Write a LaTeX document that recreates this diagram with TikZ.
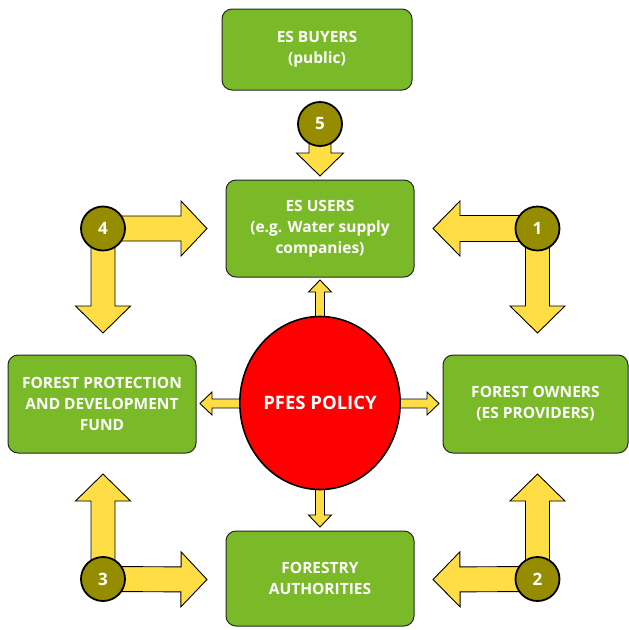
\documentclass[tikz,border=0pt]{standalone}
\usepackage{fontspec}
\setmainfont{Open Sans}
\usetikzlibrary{shapes.geometric,calc}

\definecolor{boxgreen}{RGB}{122,186,40}
\definecolor{arrowyellow}{RGB}{255,221,68}
\definecolor{numolive}{RGB}{150,140,0}
\definecolor{policyred}{RGB}{255,0,0}

% block arrow from #1 to #2: shaft half-width #3, head half-width #4, head length #5
\newcommand\blkarrow[5]{%
  \coordinate (hb) at ($(#2)!#5!(#1)$);
  \draw[blk] ($(#1)!#3!90:(#2)$) -- ($(hb)!#3!90:(#2)$) -- ($(hb)!#4!90:(#2)$)
    -- (#2) -- ($(hb)!#4!-90:(#2)$) -- ($(hb)!#3!-90:(#2)$) -- ($(#1)!#3!-90:(#2)$) -- cycle;
}

\begin{document}
\begin{tikzpicture}[x=1pt,y=-1pt,
  box/.style={draw=black!85, line width=1pt, fill=boxgreen, rounded corners=10pt,
    text=white, font=\bfseries\fontsize{15.5}{21}\selectfont, align=center, inner sep=0pt},
  blk/.style={draw=black, line width=0.9pt, fill=arrowyellow, line join=miter},
  num/.style={circle, draw=black, line width=1.8pt, fill=numolive, text=white,
    font=\bfseries\fontsize{17}{17}\selectfont, minimum size=44pt, inner sep=0pt},
  policy/.style={ellipse, draw=black, line width=1.6pt, fill=policyred, text=white,
    font=\bfseries\fontsize{18.5}{20}\selectfont, minimum width=157pt, minimum height=173pt, inner sep=0pt}]

\useasboundingbox (0,0) rectangle (629,630);

% stakeholder boxes
\coordinate (buyersC) at (317,49.5);
\coordinate (usersC) at (320,228.5);
\coordinate (fundC) at (102,404);
\coordinate (ownersC) at (535.5,404);
\coordinate (authC) at (320,578.5);

% central policy ellipse position
\coordinate (policyC) at (320,403);

% number circles positions
\coordinate (p5) at (320,124);
\coordinate (p4) at (103,228.5);
\coordinate (p1) at (537.5,228.5);
\coordinate (p3) at (103,579);
\coordinate (p2) at (537.5,579);

% free ends of the flow arrows
\coordinate (t5) at (320,176);
\coordinate (t4r) at (207,228.5);
\coordinate (t4d) at (103,333);
\coordinate (t1l) at (433,228.5);
\coordinate (t1d) at (537.5,333);
\coordinate (t3u) at (103,474);
\coordinate (t3r) at (207,579.5);
\coordinate (t2u) at (537.5,474);
\coordinate (t2l) at (433,579.5);
\coordinate (pu) at (320,280);
\coordinate (pd) at (320,527);
\coordinate (pl) at (200,403.5);
\coordinate (pr) at (439,403.5);
\coordinate (bu) at (320,330);
\coordinate (bd) at (320,478);
\coordinate (bl) at (262,403.5);
\coordinate (br) at (378,403.5);

% arrows from the policy to the boxes
\blkarrow{bu}{pu}{4.5pt}{11.5pt}{12pt}
\blkarrow{bd}{pd}{4.5pt}{11.5pt}{12pt}
\blkarrow{bl}{pl}{4.5pt}{11.5pt}{12pt}
\blkarrow{br}{pr}{4.5pt}{11.5pt}{12pt}

% flow arrows
\blkarrow{p5}{t5}{11pt}{23.5pt}{23pt}
\blkarrow{p4}{t4r}{12.5pt}{27.5pt}{26pt}
\blkarrow{p4}{t4d}{12pt}{27.5pt}{27pt}
\blkarrow{p1}{t1l}{13pt}{27.5pt}{27pt}
\blkarrow{p1}{t1d}{12pt}{27.5pt}{27pt}
\blkarrow{p3}{t3u}{12pt}{27.5pt}{27pt}
\blkarrow{p3}{t3r}{12.5pt}{27.5pt}{26pt}
\blkarrow{p2}{t2u}{12pt}{27.5pt}{27pt}
\blkarrow{p2}{t2l}{12.5pt}{27.5pt}{27pt}

% boxes
\node[box, minimum width=190pt, minimum height=81pt] (buyers) at (buyersC) {ES BUYERS\\(public)};
\node[box, minimum width=188pt, minimum height=97pt] (users) at (usersC) {ES USERS\\(e.g. Water supply\\companies)};
\node[box, minimum width=188pt, minimum height=98pt] (fund) at (fundC) {FOREST PROTECTION\\AND DEVELOPMENT\\FUND};
\node[box, minimum width=185pt, minimum height=98pt] (owners) at (ownersC) {FOREST OWNERS\\(ES PROVIDERS)};
\node[box, minimum width=188pt, minimum height=95pt] (auth) at (authC) {FORESTRY\\AUTHORITIES};

% policy
\node[policy] (policy) at (policyC) {PFES POLICY};

% number circles
\node[num] (c5) at (p5) {5};
\node[num] (c4) at (p4) {4};
\node[num] (c1) at (p1) {1};
\node[num] (c3) at (p3) {3};
\node[num] (c2) at (p2) {2};
\end{tikzpicture}
\end{document}
